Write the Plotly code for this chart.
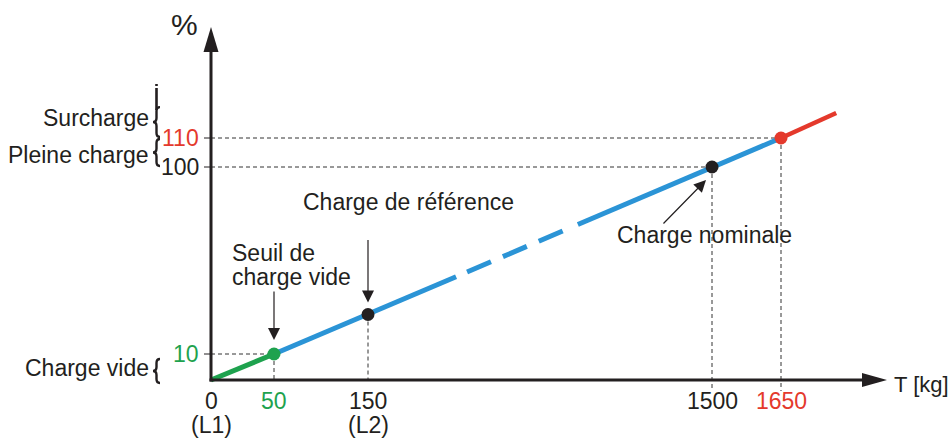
import numpy as np
import plotly.graph_objects as go

# ---------------- data ----------------
LOAD_KG = [0, 50, 150, 1500, 1650]          # characteristic loads
LOAD_PCT = [0, 10, 29, 100, 110]            # signal in %
OVERLOAD_END_KG = 1770
OVERLOAD_END_PCT = 118.6

X_TICK_TEXT = ["0", "50", "150", "1500", "1650"]
X_TICK_SUB = ["(L1)", "", "(L2)", "", ""]
Y_TICK_PCT = [10, 100, 110]
Y_TICK_TEXT = ["10", "100", "110"]

ZONE_NAMES = ["Surcharge", "Pleine charge", "Charge vide"]
ZONE_LO = [110, 100, 0]
ZONE_HI = [121, 110, 10]

# schematic (non-linear) axis scales: value -> axis units
X_SCALE_KG = [0, 50, 150, 1500, 1650, 1800]
X_SCALE_POS = [0, 63, 157, 501, 570, 639]
Y_SCALE_PCT = [0, 10, 100, 110, 120, 130]
Y_SCALE_POS = [0, 26, 213, 242, 271, 300]

# dashed interruption of the blue line (fractions along 150 -> 1500 segment)
GAP_START, DASH_START, DASH_END, GAP_END = 0.256, 0.288, 0.578, 0.61

# ---------------- style ----------------
BLACK = "#231f20"
GREEN = "#1ea24e"
BLUE = "#2b94d6"
RED = "#e4392c"
FONT = "Liberation Sans, Arial, sans-serif"
FS = 23
X_TICK_COLORS = [BLACK, GREEN, BLACK, BLACK, RED]
Y_TICK_COLORS = [GREEN, BLACK, RED]
ZONE_LABEL_SHIFT = [6, 0, 5]


def X(v):
    return np.interp(v, X_SCALE_KG, X_SCALE_POS)


def Y(v):
    return np.interp(v, Y_SCALE_PCT, Y_SCALE_POS)


xs = X(LOAD_KG)
ys = Y(LOAD_PCT)


def lerp(i, j, t):
    return xs[i] + (xs[j] - xs[i]) * t, ys[i] + (ys[j] - ys[i]) * t


fig = go.Figure()
shapes = []
ann = []

guide = dict(color="#333333", width=1, dash="4px,3px")

# horizontal guides with small ticks
for p, txt, col in zip(Y_TICK_PCT, Y_TICK_TEXT, Y_TICK_COLORS):
    yy = float(Y(p))
    idx = LOAD_PCT.index(p)
    shapes.append(dict(type="line", x0=-7, x1=0, y0=yy, y1=yy,
                       line=dict(color=BLACK, width=1)))
    fig.add_trace(go.Scatter(x=[0, xs[idx]], y=[yy, yy], mode="lines",
                             line=guide, hoverinfo="skip", showlegend=False))
    ann.append(dict(x=-10, y=yy, text=txt, xanchor="right", yanchor="middle",
                    showarrow=False, font=dict(size=FS, color=col, family=FONT)))

# vertical guides
for k in range(1, len(LOAD_KG)):
    bottom = -11 if LOAD_KG[k] >= 1500 else 0
    fig.add_trace(go.Scatter(x=[xs[k], xs[k]], y=[ys[k], bottom], mode="lines",
                             line=guide, hoverinfo="skip", showlegend=False))

# x tick labels
for k in range(len(LOAD_KG)):
    ann.append(dict(x=xs[k], y=-21, text=X_TICK_TEXT[k], xanchor="center",
                    yanchor="middle", showarrow=False,
                    font=dict(size=FS, color=X_TICK_COLORS[k], family=FONT)))
    if X_TICK_SUB[k]:
        ann.append(dict(x=xs[k], y=-45, text=X_TICK_SUB[k], xanchor="center",
                        yanchor="middle", showarrow=False,
                        font=dict(size=FS, color=BLACK, family=FONT)))

# curve segments
fig.add_trace(go.Scatter(x=xs[0:2], y=ys[0:2], mode="lines",
                         line=dict(color=GREEN, width=5), showlegend=False))
ga = lerp(2, 3, GAP_START)
fig.add_trace(go.Scatter(x=[xs[1], xs[2], ga[0]], y=[ys[1], ys[2], ga[1]],
                         mode="lines", line=dict(color=BLUE, width=5),
                         showlegend=False))
da, db = lerp(2, 3, DASH_START), lerp(2, 3, DASH_END)
fig.add_trace(go.Scatter(x=[da[0], db[0]], y=[da[1], db[1]], mode="lines",
                         line=dict(color=BLUE, width=5, dash="26px,13px"),
                         showlegend=False))
gb = lerp(2, 3, GAP_END)
fig.add_trace(go.Scatter(x=[gb[0], xs[3], xs[4]], y=[gb[1], ys[3], ys[4]],
                         mode="lines", line=dict(color=BLUE, width=5),
                         showlegend=False))
fig.add_trace(go.Scatter(x=[xs[4], X(OVERLOAD_END_KG)],
                         y=[ys[4], Y(OVERLOAD_END_PCT)], mode="lines",
                         line=dict(color=RED, width=4.5), showlegend=False))

# points
fig.add_trace(go.Scatter(x=xs[1:], y=ys[1:], mode="markers",
                         marker=dict(size=13, color=[GREEN, BLACK, BLACK, RED],
                                     line=dict(width=0)),
                         showlegend=False))

# axes with arrow heads
X_END, X_TIP, Y_END, Y_TIP = 651, 676, 328, 353
shapes.append(dict(type="line", x0=-1.5, x1=X_END, y0=0, y1=0,
                   line=dict(color=BLACK, width=3)))
shapes.append(dict(type="line", x0=0, x1=0, y0=-1.5, y1=Y_END,
                   line=dict(color=BLACK, width=3)))
shapes.append(dict(type="path",
                   path=f"M {X_END},7 L {X_TIP},0 L {X_END},-7 Z",
                   fillcolor=BLACK, line=dict(color=BLACK, width=0)))
shapes.append(dict(type="path",
                   path=f"M -7.5,{Y_END} L 0,{Y_TIP} L 7.5,{Y_END} Z",
                   fillcolor=BLACK, line=dict(color=BLACK, width=0)))
ann.append(dict(x=X_TIP + 5, y=-4, text="T [kg]", xanchor="left", yanchor="middle",
                showarrow=False, font=dict(size=22, color=BLACK, family=FONT)))
ann.append(dict(x=-27, y=356, text="%", xanchor="center", yanchor="middle",
                showarrow=False, font=dict(size=30, color=BLACK, family=FONT)))

# zone braces and labels
BR = -51  # right side of braces
for name, lo, hi, dy in zip(ZONE_NAMES, ZONE_LO, ZONE_HI, ZONE_LABEL_SHIFT):
    yt, yb = float(Y(hi)) - 1, float(Y(lo)) + 1
    if lo == 0:
        yt, yb = yt - 4, yb - 4
    ym = (yt + yb) / 2
    xc, xm = BR - 3.5, BR - 7
    path = (f"M {BR},{yt} Q {xc},{yt} {xc},{yt-4} L {xc},{ym+4} "
            f"Q {xc},{ym} {xm},{ym} Q {xc},{ym} {xc},{ym-4} "
            f"L {xc},{yb+4} Q {xc},{yb} {BR},{yb}")
    shapes.append(dict(type="path", path=path,
                       line=dict(color=BLACK, width=2.4)))
    ann.append(dict(x=BR - 9, y=ym - 2 + dy, text=name, xanchor="right",
                    yanchor="middle", showarrow=False,
                    font=dict(size=FS, color=BLACK, family=FONT)))
    if name == "Surcharge":
        fig.add_trace(go.Scatter(x=[xc, xc], y=[yt + 23, yt - 3], mode="lines",
                                 line=dict(color=BLACK, width=2.6,
                                           dash="2px,2px,40px"),
                                 showlegend=False, hoverinfo="skip"))

# callouts
arrow = dict(showarrow=True, arrowhead=2, arrowsize=2, arrowwidth=1.2,
             arrowcolor=BLACK, axref="x", ayref="y", text="", standoff=0)
ann.append(dict(x=xs[1], y=ys[1] + 14, ax=xs[1], ay=ys[1] + 64, **arrow))
ann.append(dict(x=xs[2], y=ys[2] + 12, ax=xs[2], ay=ys[2] + 76, **arrow))
ann.append(dict(x=xs[3] - 6, y=ys[3] - 13, ax=xs[3] - 50, ay=ys[3] - 58, **arrow))

ann.append(dict(x=19, y=127, text="Seuil de", xanchor="left", yanchor="middle",
                showarrow=False, font=dict(size=FS, color=BLACK, family=FONT)))
ann.append(dict(x=19, y=103, text="charge vide", xanchor="left", yanchor="middle",
                showarrow=False, font=dict(size=FS, color=BLACK, family=FONT)))
ann.append(dict(x=197, y=178, text="Charge de référence", xanchor="center",
                yanchor="middle", showarrow=False,
                font=dict(size=FS, color=BLACK, family=FONT)))
ann.append(dict(x=493, y=145, text="Charge nominale", xanchor="center",
                yanchor="middle", showarrow=False,
                font=dict(size=FS, color=BLACK, family=FONT)))

fig.update_layout(
    width=949, height=438,
    margin=dict(l=0, r=0, t=0, b=0),
    paper_bgcolor="white", plot_bgcolor="white",
    xaxis=dict(range=[-211, 738], visible=False, fixedrange=True),
    yaxis=dict(range=[-58, 380], visible=False, fixedrange=True),
    shapes=shapes, annotations=ann, showlegend=False,
)
fig.write_html(
    "out.html",
    config={"displayModeBar": False},
    post_script="document.body.style.margin='0';document.body.style.overflow='hidden';",
)
